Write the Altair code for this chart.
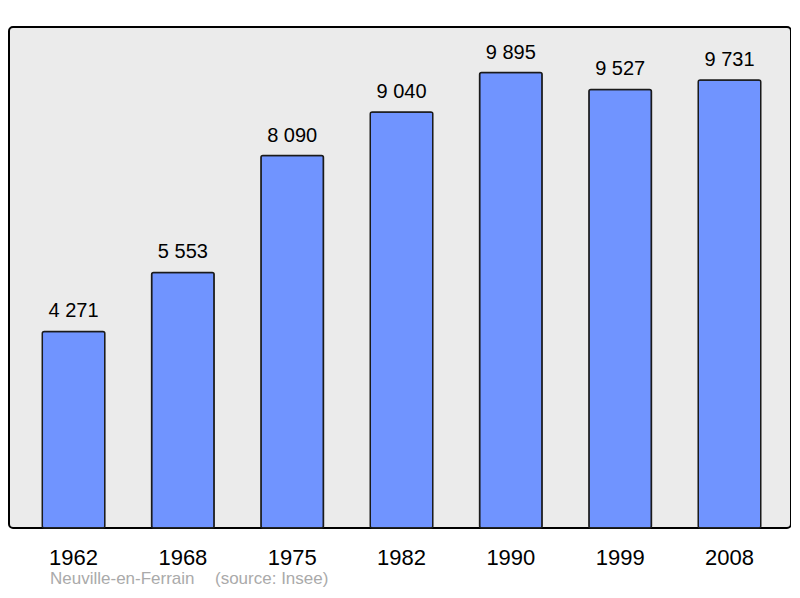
import altair as alt
import pandas as pd

years = ["1962", "1968", "1975", "1982", "1990", "1999", "2008"]
population = [4271, 5553, 8090, 9040, 9895, 9527, 9731]
labels = [f"{v:,}".replace(",", " ") for v in population]
source_parts = ["Neuville-en-Ferrain", "(source: Insee)"]
source_x = [41, 206]

df = pd.DataFrame({"year": years, "pop": population, "label": labels})
src_df = pd.DataFrame({"t": source_parts, "px": source_x})

x = alt.X("year:N", sort=years,
          scale=alt.Scale(paddingInner=0.428, paddingOuter=0.2905, align=0.524),
          axis=alt.Axis(title=None, labelAngle=0, domain=False, ticks=False,
                        labelFontSize=22, labelFont="Liberation Sans",
                        labelColor="#000000", labelPadding=19))
y = alt.Y("pop:Q", scale=alt.Scale(domain=[0, 10884], nice=False),
          axis=None)

bars = alt.Chart(df).mark_bar(
    color="#7094ff", stroke="#1a1a1a", strokeWidth=1.5, cornerRadius=2
).encode(x=x, y=y)

text = alt.Chart(df).mark_text(
    dy=-14, baseline="alphabetic", fontSize=20, font="Liberation Sans", color="#000000"
).encode(x=x, y=y, text="label:N")

src = alt.Chart(src_df).mark_text(
    align="left", baseline="alphabetic", fontSize=17, font="Liberation Sans", color="#aaaaaa"
).encode(x=alt.X("px:Q", scale=None), y=alt.value(557), text="t:N")

chart = alt.layer(bars, text, src).properties(
    width=782, height=501,
    autosize=alt.AutoSizeParams(type="none"),
    padding={"left": 1, "top": 19, "right": 0, "bottom": 62},
    background="#ffffff"
).configure_view(
    fill="#ebebeb", stroke="#000000", strokeWidth=2, cornerRadius=4
)

chart.save("out.html", embed_options={"renderer": "svg", "actions": False})
